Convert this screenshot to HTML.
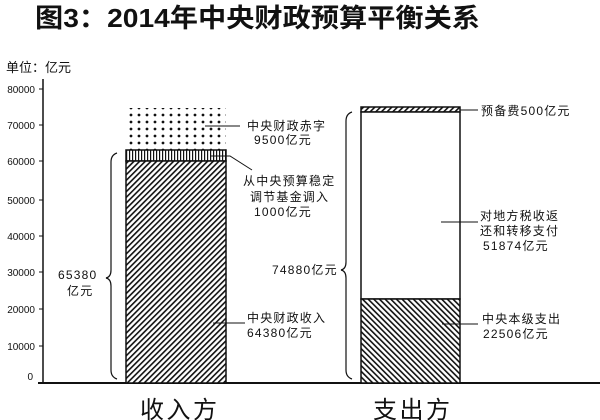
<!DOCTYPE html>
<html><head><meta charset="utf-8"><style>
html,body{margin:0;padding:0;background:#fff;}
svg{display:block;font-family:"Liberation Sans","Noto Sans CJK SC",sans-serif;}
</style></head><body>
<svg width="600" height="420" viewBox="0 0 600 420" xmlns="http://www.w3.org/2000/svg">
<defs>
<pattern id="h1" width="4" height="4" patternUnits="userSpaceOnUse" patternTransform="rotate(45)">
<rect width="4" height="4" fill="#fff"/><rect width="1.6" height="4" fill="#111"/></pattern>
<pattern id="h2" width="4" height="4" patternUnits="userSpaceOnUse" patternTransform="rotate(-45)">
<rect width="4" height="4" fill="#fff"/><rect width="1.6" height="4" fill="#111"/></pattern>
<pattern id="dots" width="8" height="7" patternUnits="userSpaceOnUse">
<rect width="8" height="7" fill="#fff"/><circle cx="3" cy="3" r="1.4" fill="#111"/></pattern>
<pattern id="vs" width="3" height="4" patternUnits="userSpaceOnUse">
<rect width="3" height="4" fill="#fff"/><rect width="1.2" height="4" fill="#111"/></pattern>
</defs>
<text x="35" y="27" font-size="26" font-weight="bold" textLength="445" lengthAdjust="spacingAndGlyphs" fill="#111">图3：2014年中央财政预算平衡关系</text>
<text x="6" y="72" font-size="13" fill="#111">单位：亿元</text>
<line x1="43" y1="79" x2="43" y2="383" stroke="#111" stroke-width="1.5"/>
<line x1="38" y1="383" x2="600" y2="383" stroke="#111" stroke-width="2"/>
<g font-size="10" fill="#111" text-anchor="end">
<text x="35" y="93">80000</text><text x="35" y="129">70000</text><text x="35" y="165">60000</text>
<text x="35" y="204">50000</text><text x="35" y="240">40000</text><text x="35" y="276">30000</text>
<text x="35" y="313">20000</text><text x="35" y="350">10000</text><text x="33" y="380">0</text>
</g>
<g stroke="#111" stroke-width="1">
<line x1="39" y1="89" x2="43" y2="89"/><line x1="39" y1="125" x2="43" y2="125"/><line x1="39" y1="161" x2="43" y2="161"/>
<line x1="39" y1="200" x2="43" y2="200"/><line x1="39" y1="236" x2="43" y2="236"/><line x1="39" y1="272" x2="43" y2="272"/>
<line x1="39" y1="309" x2="43" y2="309"/><line x1="39" y1="346" x2="43" y2="346"/>
</g>
<rect x="126" y="108" width="100" height="42" fill="url(#dots)"/>
<rect x="126" y="150" width="100" height="11" fill="url(#vs)" stroke="#111" stroke-width="1.5"/>
<rect x="126" y="161" width="100" height="222" fill="url(#h1)" stroke="#111" stroke-width="1.5"/>
<rect x="361" y="107" width="99" height="5" fill="url(#h1)" stroke="#111" stroke-width="1.5"/>
<rect x="361" y="112" width="99" height="187" fill="#fff" stroke="#111" stroke-width="1.5"/>
<rect x="361" y="299" width="99" height="84" fill="url(#h2)" stroke="#111" stroke-width="1.5"/>
<path d="M117 153 Q111 155 111 162 L111 270 Q111 277 106 278 Q111 279 111 286 L111 370 Q111 377 117 379" fill="none" stroke="#111" stroke-width="1.2"/>
<path d="M352 112 Q346 114 346 121 L346 262 Q346 269 341 270 Q346 271 346 278 L346 370 Q346 377 352 379" fill="none" stroke="#111" stroke-width="1.2"/>
<g stroke="#111" stroke-width="1" fill="none">
<line x1="205" y1="126" x2="240" y2="126"/>
<polyline points="210,156 230,156 252,170"/>
<line x1="213" y1="323" x2="245" y2="323"/>
<line x1="460" y1="110" x2="478" y2="110"/>
<line x1="441" y1="222" x2="478" y2="222"/>
<line x1="442" y1="324" x2="478" y2="324"/>
</g>
<g font-size="12" fill="#111" letter-spacing="1.2">
<text x="247" y="130">中央财政赤字</text>
<text x="254" y="144">9500亿元</text>
<text x="243" y="185">从中央预算稳定</text>
<text x="250" y="201">调节基金调入</text>
<text x="254" y="216">1000亿元</text>
<text x="247" y="322">中央财政收入</text>
<text x="247" y="337">64380亿元</text>
<text x="58" y="279">65380</text>
<text x="67" y="295">亿元</text>
<text x="272" y="274">74880亿元</text>
<text x="481" y="115">预备费500亿元</text>
<text x="480" y="220">对地方税收返</text>
<text x="480" y="235">还和转移支付</text>
<text x="483" y="250">51874亿元</text>
<text x="482" y="323">中央本级支出</text>
<text x="483" y="338">22506亿元</text>
</g>
<text x="140" y="418" font-size="24" textLength="77" lengthAdjust="spacing" fill="#111">收入方</text>
<text x="373" y="418" font-size="24" textLength="77" lengthAdjust="spacing" fill="#111">支出方</text>
</svg>
</body></html>
